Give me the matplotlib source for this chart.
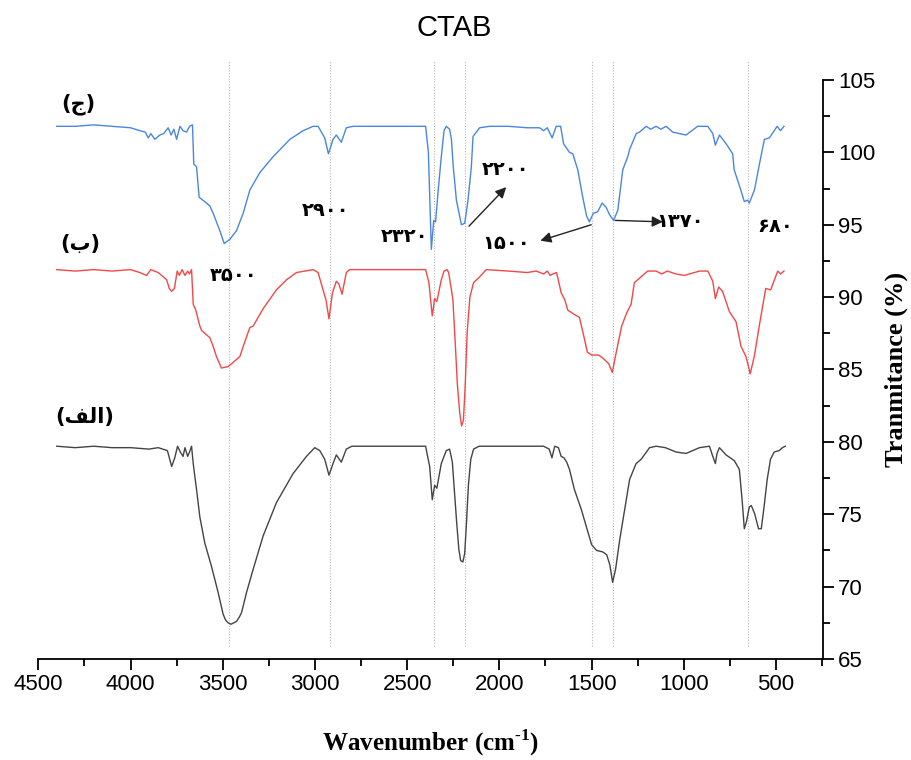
import matplotlib
matplotlib.use("Agg")
import matplotlib.pyplot as plt
from matplotlib.ticker import MultipleLocator

plt.rcParams["mathtext.fontset"] = "custom"
plt.rcParams["mathtext.rm"] = "Liberation Serif:bold"
plt.rcParams["mathtext.bf"] = "Liberation Serif:bold"

# ---------------- data ----------------
# (الف) black spectrum
wn_a = [4400, 4300, 4200, 4100, 4000, 3900, 3850, 3800, 3777, 3760, 3745, 3730, 3715, 3705, 3690, 3680,
        3669, 3660, 3642, 3624, 3597, 3561, 3525, 3498, 3485, 3471, 3455, 3440, 3425, 3410, 3398, 3371,
        3335, 3281, 3209, 3119, 3046, 3001, 2974, 2947, 2924, 2902, 2884, 2857, 2830, 2800, 2600, 2400,
        2378, 2364, 2351, 2339, 2315, 2288, 2270, 2255, 2245, 2232, 2220, 2210, 2198, 2188, 2178, 2168,
        2155, 2140, 2110, 1900, 1760, 1730, 1715, 1700, 1680, 1665, 1650, 1635, 1620, 1593, 1555, 1523,
        1500, 1473, 1440, 1418, 1401, 1386, 1370, 1348, 1321, 1294, 1259, 1231, 1186, 1150, 1100, 1042,
        988, 915, 861, 843, 829, 820, 807, 771, 726, 699, 684, 672, 660, 645, 634, 615, 595, 580, 565,
        548, 530, 510, 483, 465, 450]
t_a = [79.7, 79.6, 79.7, 79.6, 79.6, 79.5, 79.6, 79.4, 78.3, 78.9, 79.7, 79.3, 79.0, 79.6, 79.0, 79.3,
       79.7, 78.5, 76.7, 74.8, 73.0, 71.4, 69.6, 68.1, 67.7, 67.5, 67.4, 67.5, 67.6, 67.9, 68.2, 69.6,
       71.2, 73.5, 75.8, 77.8, 79.0, 79.6, 79.4, 78.8, 77.7, 78.5, 79.1, 78.6, 79.5, 79.7, 79.7, 79.7,
       78.3, 76.0, 77.0, 76.8, 78.5, 79.4, 79.5, 78.6, 76.8, 74.5, 72.6, 71.8, 71.7, 72.3, 74.5, 77.0,
       78.8, 79.5, 79.7, 79.7, 79.7, 79.5, 78.9, 79.7, 79.6, 79.0, 78.9, 78.6, 78.1, 76.7, 75.3, 73.9,
       72.9, 72.5, 72.4, 72.2, 71.5, 70.3, 71.2, 73.2, 75.3, 77.4, 78.5, 78.8, 79.6, 79.7, 79.6, 79.3,
       79.2, 79.6, 79.7, 79.0, 78.5, 79.2, 79.6, 79.1, 78.7, 78.1, 76.0, 74.0, 74.5, 75.5, 75.6, 75.0,
       74.0, 74.0, 75.5, 77.4, 78.8, 79.3, 79.4, 79.6, 79.7]

# (ب) red spectrum
wn_b = [4400, 4300, 4200, 4100, 4000, 3950, 3913, 3890, 3850, 3804, 3790, 3777, 3762, 3747, 3735, 3720,
        3705, 3690, 3680, 3669, 3660, 3646, 3624, 3615, 3570, 3552, 3534, 3507, 3471, 3452, 3407, 3389,
        3353, 3335, 3281, 3209, 3154, 3100, 3010, 2983, 2956, 2940, 2924, 2905, 2884, 2870, 2853, 2830,
        2812, 2600, 2400, 2382, 2364, 2351, 2339, 2315, 2300, 2284, 2275, 2260, 2252, 2240, 2228, 2215,
        2205, 2195, 2185, 2175, 2160, 2140, 2107, 2071, 1950, 1850, 1800, 1760, 1740, 1725, 1710, 1690,
        1665, 1645, 1629, 1593, 1566, 1544, 1523, 1500, 1462, 1440, 1407, 1388, 1363, 1337, 1310, 1286,
        1268, 1241, 1196, 1150, 1120, 1090, 1042, 997, 915, 870, 843, 829, 811, 790, 753, 717, 690, 663,
        640, 618, 591, 556, 529, 491, 476, 457]
t_b = [91.9, 91.8, 91.9, 91.8, 91.9, 91.7, 91.5, 91.9, 91.7, 91.2, 90.6, 90.4, 90.6, 91.8, 91.5, 91.9,
       91.5, 91.8, 91.6, 91.9, 89.5, 89.1, 88.0, 87.7, 87.2, 86.6, 85.9, 85.1, 85.2, 85.4, 85.9, 86.6,
       87.9, 88.0, 89.2, 90.5, 91.2, 91.7, 91.9, 91.7, 90.5, 89.8, 88.5, 90.3, 91.1, 90.9, 90.2, 91.7,
       91.9, 91.9, 91.9, 91.0, 88.7, 89.9, 89.7, 91.2, 91.8, 91.9, 91.7, 90.5, 89.8, 87.0, 84.0, 82.0,
       81.1, 81.5, 84.0, 87.5, 90.0, 91.0, 91.4, 91.9, 91.8, 91.7, 91.8, 91.6, 91.8, 91.5, 91.6, 91.7,
       90.3, 89.8, 89.1, 88.8, 88.6, 87.4, 86.2, 86.0, 86.0, 85.8, 85.4, 84.8, 86.4, 88.0, 88.9, 89.5,
       91.0, 91.3, 91.8, 91.8, 91.6, 91.8, 91.6, 91.5, 91.8, 91.8, 91.1, 89.9, 90.7, 90.4, 89.0, 88.3,
       86.6, 85.9, 84.7, 85.9, 88.0, 90.6, 90.5, 91.8, 91.6, 91.8]

# (ج) blue spectrum
wn_c = [4400, 4300, 4200, 4100, 4000, 3949, 3920, 3904, 3890, 3868, 3841, 3820, 3796, 3780, 3765, 3750,
        3732, 3715, 3696, 3680, 3664, 3657, 3642, 3628, 3588, 3570, 3552, 3516, 3492, 3461, 3425, 3389,
        3353, 3299, 3227, 3136, 3064, 3010, 2983, 2947, 2927, 2902, 2884, 2857, 2830, 2794, 2600, 2400,
        2385, 2369, 2356, 2346, 2333, 2315, 2300, 2288, 2270, 2260, 2250, 2233, 2206, 2188, 2170, 2152,
        2143, 2107, 2053, 1950, 1850, 1782, 1760, 1740, 1714, 1692, 1668, 1652, 1620, 1602, 1575, 1548,
        1527, 1512, 1490, 1467, 1443, 1421, 1403, 1381, 1358, 1331, 1304, 1294, 1258, 1240, 1204, 1180,
        1150, 1125, 1096, 1060, 988, 925, 870, 843, 829, 807, 771, 735, 727, 691, 672, 654, 645, 617,
        590, 563, 536, 515, 494, 476, 457]
t_c = [101.8, 101.8, 101.9, 101.8, 101.7, 101.5, 101.4, 101.0, 101.3, 100.9, 101.2, 101.3, 101.7, 101.2,
       101.6, 100.9, 101.8, 101.5, 101.4, 101.8, 101.9, 99.2, 99.0, 96.9, 96.5, 96.3, 95.8, 94.6, 93.7,
       94.0, 94.6, 95.8, 97.4, 98.6, 99.7, 100.9, 101.5, 101.8, 101.8, 101.0, 99.9, 100.9, 101.2, 100.7,
       101.7, 101.8, 101.8, 101.8, 100.0, 93.3, 95.3, 95.2, 97.2, 99.7, 101.5, 101.8, 101.6, 100.9, 99.0,
       96.7, 95.0, 95.1, 96.7, 99.0, 101.1, 101.7, 101.8, 101.8, 101.7, 101.7, 101.5, 101.7, 101.0, 101.8,
       101.8, 100.6, 100.0, 99.9, 98.8, 96.9, 95.6, 95.2, 95.8, 95.9, 96.5, 96.2, 95.7, 95.3, 96.0, 98.8,
       99.7, 100.2, 101.3, 101.4, 101.8, 101.6, 101.8, 101.6, 101.8, 101.4, 101.2, 101.8, 101.8, 101.3,
       100.5, 101.2, 100.6, 99.9, 98.8, 97.4, 96.6, 96.7, 96.5, 97.4, 99.2, 100.9, 101.0, 101.4, 101.8,
       101.5, 101.8]

# marked band positions (vertical guide lines)
guide_wn = [3468, 2921, 2356, 2184, 1500, 1386, 653]

# peak labels (Persian digits) with positions
peak_labels = ["۳۵۰۰", "۲۹۰۰", "۲۳۲۰", "۲۲۰۰", "۱۵۰۰", "۱۳۷۰", "۶۸۰"]
peak_label_wn = [3440, 2942, 2514, 1964, 1964, 1020, 505]
peak_label_t = [91.5, 96.0, 94.2, 98.8, 93.7, 95.2, 94.9]

# curve names (Arabic presentation forms, visual order)
curve_names = ["(ج)", "(ب)", "(\uFED2\uFEDF\uFE8D)"]
curve_name_wn = [4285, 4274, 4247]
curve_name_t = [103.3, 93.7, 81.7]

# arrows: (tail wn, tail T, head wn, head T)
arrow_tail_wn = [2165, 1502, 1372]
arrow_tail_t = [94.9, 95.0, 95.3]
arrow_head_wn = [1963, 1778, 1114]
arrow_head_t = [97.6, 93.9, 95.2]

# ---------------- figure ----------------
fig = plt.figure(figsize=(9.11, 7.60), dpi=100)
ax = fig.add_axes([38.3 / 911, 1 - 659 / 760, (822.7 - 38.3) / 911, (659 - 80) / 760])

for w in guide_wn:
    ax.plot([w, w], [65.9, 106.3], color="#b8b8b8", lw=0.8, ls=(0, (1, 1.5)), clip_on=False, zorder=1)

ax.plot(wn_a, t_a, color="#444444", lw=1.0, zorder=3)
ax.plot(wn_b, t_b, color="#f04848", lw=1.0, zorder=3)
ax.plot(wn_c, t_c, color="#4a86e0", lw=1.0, zorder=3)

ax.set_xlim(4500, 247)
ax.set_ylim(65, 105)

for s in ["top", "left"]:
    ax.spines[s].set_visible(False)
ax.spines["bottom"].set_linewidth(1.3)
ax.spines["right"].set_linewidth(1.3)

ax.yaxis.tick_right()
ax.yaxis.set_label_position("right")
ax.xaxis.set_major_locator(MultipleLocator(500))
ax.xaxis.set_minor_locator(MultipleLocator(250))
ax.yaxis.set_major_locator(MultipleLocator(5))
ax.yaxis.set_minor_locator(MultipleLocator(2.5))
ax.tick_params(which="major", direction="out", length=8, width=1.3, labelsize=16, pad=3)
ax.tick_params(which="minor", direction="out", length=5, width=1.3)
ax.tick_params(axis="y", which="both", left=False, right=True)
for lab in ax.get_xticklabels() + ax.get_yticklabels():
    lab.set_fontfamily("Liberation Sans")

ax.set_xlabel("Wavenumber (cm$^{\\text{-1}}$)", fontsize=18, fontweight="bold",
              fontfamily="Liberation Serif", labelpad=23)
ax.set_ylabel("Tranmitance (%)", fontsize=19, fontweight="bold",
              fontfamily="Liberation Serif", rotation=90, labelpad=7)

fig.text(454 / 911, 1 - 28 / 760, "CTAB", ha="center", va="center", fontsize=21,
         fontfamily="Liberation Sans")

for s, w, t in zip(curve_names, curve_name_wn, curve_name_t):
    ax.text(w, t, s, ha="center", va="center", fontsize=15, fontweight="bold",
            family=["DejaVu Sans"], zorder=5)

for s, w, t in zip(peak_labels, peak_label_wn, peak_label_t):
    ax.text(w, t, s, ha="center", va="center", fontsize=14, fontweight="bold",
            family=["DejaVu Sans"], zorder=5)

for tw, tt, hw, ht in zip(arrow_tail_wn, arrow_tail_t, arrow_head_wn, arrow_head_t):
    ax.annotate("", xy=(hw, ht), xytext=(tw, tt),
                arrowprops=dict(arrowstyle="-|>", color="#222222", lw=1.0,
                                mutation_scale=16, shrinkA=0, shrinkB=0), zorder=5)

fig.savefig("out.png", dpi=100)
